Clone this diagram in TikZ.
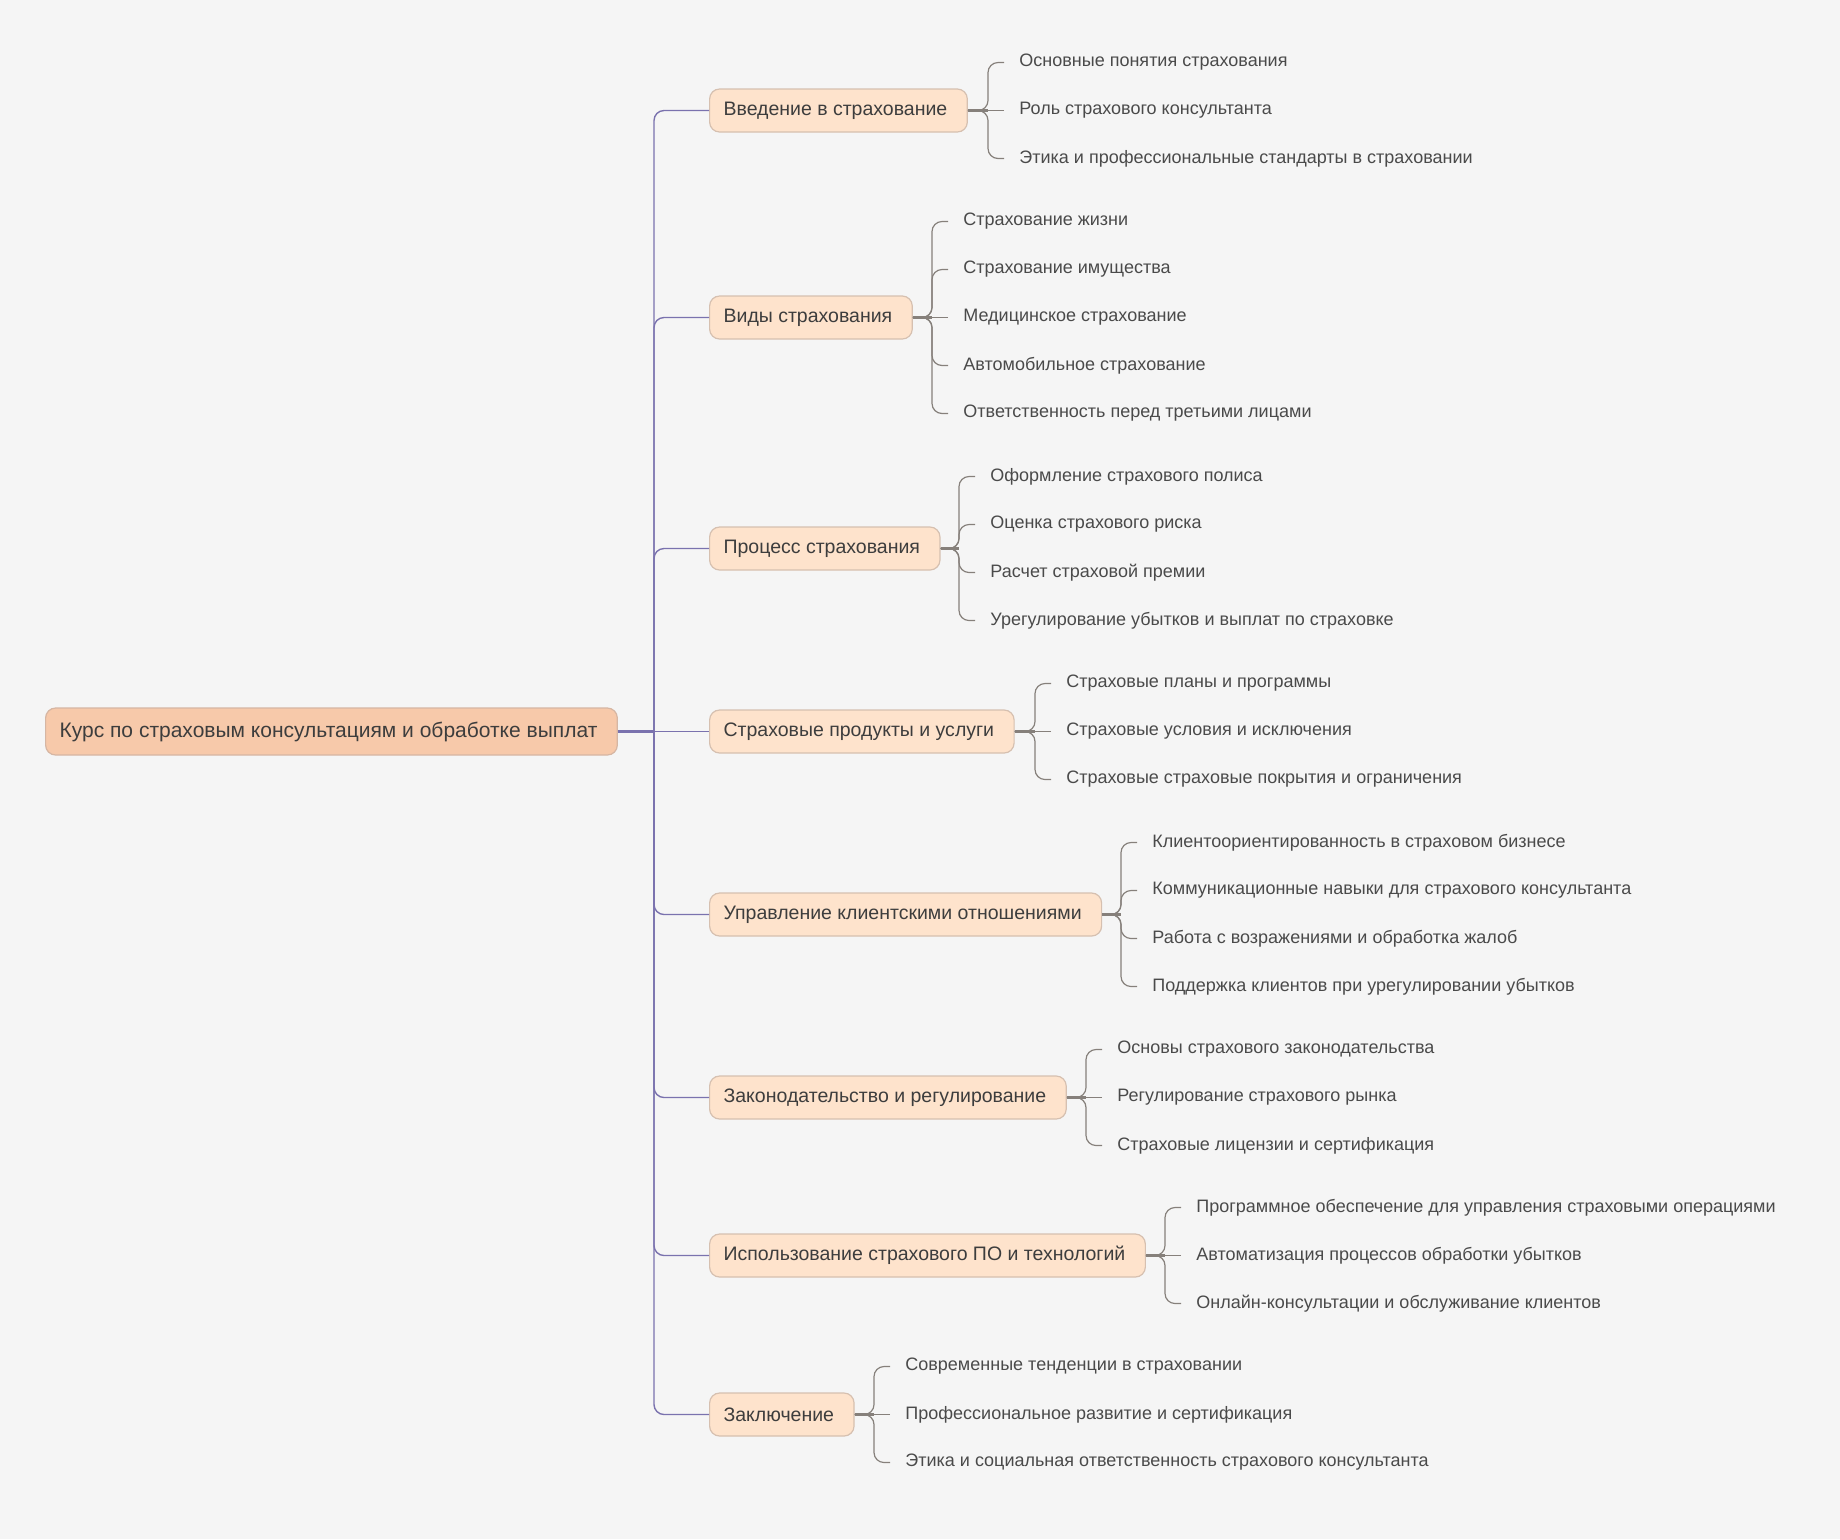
\documentclass[tikz,border=0pt]{standalone}
\usepackage{fontspec}
\setmainfont{Liberation Sans}
\usetikzlibrary{positioning, calc}
\definecolor{pagebg}{HTML}{F5F5F5}
\definecolor{rootfill}{HTML}{F7C9AA}
\definecolor{rootline}{HTML}{D6B6A3}
\definecolor{topicfill}{HTML}{FEE3CC}
\definecolor{topicline}{HTML}{D6C0B0}
\definecolor{trunkpurple}{HTML}{7A72AE}
\definecolor{twiggray}{HTML}{86807B}
\definecolor{inktext}{HTML}{3D3D3D}
\definecolor{leaftext}{HTML}{4A4A4A}

\begin{document}
\begin{tikzpicture}[x=0.5pt, y=-0.5pt,
      every node/.style={text=inktext},
      rootbox/.style={draw=rootline, fill=rootfill, rounded corners=5pt, line width=0.6pt,
                      font=\fontsize{10.5}{12}\selectfont, minimum height=23.5pt, inner xsep=7pt,
                      execute at end node={\hspace{3pt}}, anchor=west},
      topic/.style={draw=topicline, fill=topicfill, rounded corners=5pt, line width=0.6pt,
                    font=\fontsize{9.75}{11}\selectfont, minimum height=21.5pt, inner xsep=7pt,
                    execute at end node={\hspace{3pt}}, anchor=west},
      leaf/.style={font=\fontsize{9}{11}\selectfont, text=leaftext, anchor=west, inner xsep=7.5pt},
      trunk/.style={draw=trunkpurple, line width=1.4pt},
      limb/.style={draw=trunkpurple, line width=0.7pt, rounded corners=5pt},
      stem/.style={draw=twiggray, line width=1.4pt},
      twig/.style={draw=twiggray, line width=0.6pt, rounded corners=5pt},
    ]
    \fill[pagebg] (0,-1.5) rectangle (1840,1537.5);
    \useasboundingbox (0,-1.5) rectangle (1840,1537.5);

    \node[rootbox] (root) at (45,730) {Курс по страховым консультациям и обработке выплат};
    \coordinate (hub) at (654,730);

    \node[topic] (v1) at (709,109)  {Введение в страхование};
    \node[topic] (v2) at (709,316)  {Виды страхования};
    \node[topic] (v3) at (709,547)  {Процесс страхования};
    \node[topic] (v4) at (709,730)  {Страховые продукты и услуги};
    \node[topic] (v5) at (709,913)  {Управление клиентскими отношениями};
    \node[topic] (v6) at (709,1096) {Законодательство и регулирование};
    \node[topic] (v7) at (709,1254) {Использование страхового ПО и технологий};
    \node[topic] (v8) at (709,1413) {Заключение};

    \node[leaf] (c11) at (1004,61)  {Основные понятия страхования};
    \node[leaf] (c12) at (1004,109) {Роль страхового консультанта};
    \node[leaf] (c13) at (1004,157) {Этика и профессиональные стандарты в страховании};

    \node[leaf] (c21) at (948,220) {Страхование жизни};
    \node[leaf] (c22) at (948,268) {Страхование имущества};
    \node[leaf] (c23) at (948,316) {Медицинское страхование};
    \node[leaf] (c24) at (948,364) {Автомобильное страхование};
    \node[leaf] (c25) at (948,412) {Ответственность перед третьими лицами};

    \node[leaf] (c31) at (975,475) {Оформление страхового полиса};
    \node[leaf] (c32) at (975,523) {Оценка страхового риска};
    \node[leaf] (c33) at (975,571) {Расчет страховой премии};
    \node[leaf] (c34) at (975,619) {Урегулирование убытков и выплат по страховке};

    \node[leaf] (c41) at (1051,682) {Страховые планы и программы};
    \node[leaf] (c42) at (1051,730) {Страховые условия и исключения};
    \node[leaf] (c43) at (1051,778) {Страховые страховые покрытия и ограничения};

    \node[leaf] (c51) at (1137,841) {Клиентоориентированность в страховом бизнесе};
    \node[leaf] (c52) at (1137,889) {Коммуникационные навыки для страхового консультанта};
    \node[leaf] (c53) at (1137,937) {Работа с возражениями и обработка жалоб};
    \node[leaf] (c54) at (1137,985) {Поддержка клиентов при урегулировании убытков};

    \node[leaf] (c61) at (1102,1048) {Основы страхового законодательства};
    \node[leaf] (c62) at (1102,1096) {Регулирование страхового рынка};
    \node[leaf] (c63) at (1102,1144) {Страховые лицензии и сертификация};

    \node[leaf] (c71) at (1181,1206) {Программное обеспечение для управления страховыми операциями};
    \node[leaf] (c72) at (1181,1254) {Автоматизация процессов обработки убытков};
    \node[leaf] (c73) at (1181,1302) {Онлайн-консультации и обслуживание клиентов};

    \node[leaf] (c81) at (890,1365) {Современные тенденции в страховании};
    \node[leaf] (c82) at (890,1413) {Профессиональное развитие и сертификация};
    \node[leaf] (c83) at (890,1461) {Этика и социальная ответственность страхового консультанта};

    \draw[trunk] (root.east) -- (hub);
    \draw[limb] (hub) |- (v1.west);
    \draw[limb] (hub) |- (v2.west);
    \draw[limb] (hub) |- (v3.west);
    \draw[limb] (hub) -- (v4.west);
    \draw[limb] (hub) |- (v5.west);
    \draw[limb] (hub) |- (v6.west);
    \draw[limb] (hub) |- (v7.west);
    \draw[limb] (hub) |- (v8.west);

    \draw[stem] (v1.east) -- ($(v1.east -| c11.west)+(-16,0)$);
    \draw[twig] (c11.west) -- ++(-16,0) |- (v1.east);
    \draw[twig] (c12.west) -- (v1.east);
    \draw[twig] (c13.west) -- ++(-16,0) |- (v1.east);

    \draw[stem] (v2.east) -- ($(v2.east -| c21.west)+(-16,0)$);
    \draw[twig] (c21.west) -- ++(-16,0) |- (v2.east);
    \draw[twig] (c22.west) -- ++(-16,0) |- (v2.east);
    \draw[twig] (c23.west) -- (v2.east);
    \draw[twig] (c24.west) -- ++(-16,0) |- (v2.east);
    \draw[twig] (c25.west) -- ++(-16,0) |- (v2.east);

    \draw[stem] (v3.east) -- ($(v3.east -| c31.west)+(-16,0)$);
    \draw[twig] (c31.west) -- ++(-16,0) |- (v3.east);
    \draw[twig] (c32.west) -- ++(-16,0) |- (v3.east);
    \draw[twig] (c33.west) -- ++(-16,0) |- (v3.east);
    \draw[twig] (c34.west) -- ++(-16,0) |- (v3.east);

    \draw[stem] (v4.east) -- ($(v4.east -| c41.west)+(-16,0)$);
    \draw[twig] (c41.west) -- ++(-16,0) |- (v4.east);
    \draw[twig] (c42.west) -- (v4.east);
    \draw[twig] (c43.west) -- ++(-16,0) |- (v4.east);

    \draw[stem] (v5.east) -- ($(v5.east -| c51.west)+(-16,0)$);
    \draw[twig] (c51.west) -- ++(-16,0) |- (v5.east);
    \draw[twig] (c52.west) -- ++(-16,0) |- (v5.east);
    \draw[twig] (c53.west) -- ++(-16,0) |- (v5.east);
    \draw[twig] (c54.west) -- ++(-16,0) |- (v5.east);

    \draw[stem] (v6.east) -- ($(v6.east -| c61.west)+(-16,0)$);
    \draw[twig] (c61.west) -- ++(-16,0) |- (v6.east);
    \draw[twig] (c62.west) -- (v6.east);
    \draw[twig] (c63.west) -- ++(-16,0) |- (v6.east);

    \draw[stem] (v7.east) -- ($(v7.east -| c71.west)+(-16,0)$);
    \draw[twig] (c71.west) -- ++(-16,0) |- (v7.east);
    \draw[twig] (c72.west) -- (v7.east);
    \draw[twig] (c73.west) -- ++(-16,0) |- (v7.east);

    \draw[stem] (v8.east) -- ($(v8.east -| c81.west)+(-16,0)$);
    \draw[twig] (c81.west) -- ++(-16,0) |- (v8.east);
    \draw[twig] (c82.west) -- (v8.east);
    \draw[twig] (c83.west) -- ++(-16,0) |- (v8.east);
  \end{tikzpicture}
\end{document}
